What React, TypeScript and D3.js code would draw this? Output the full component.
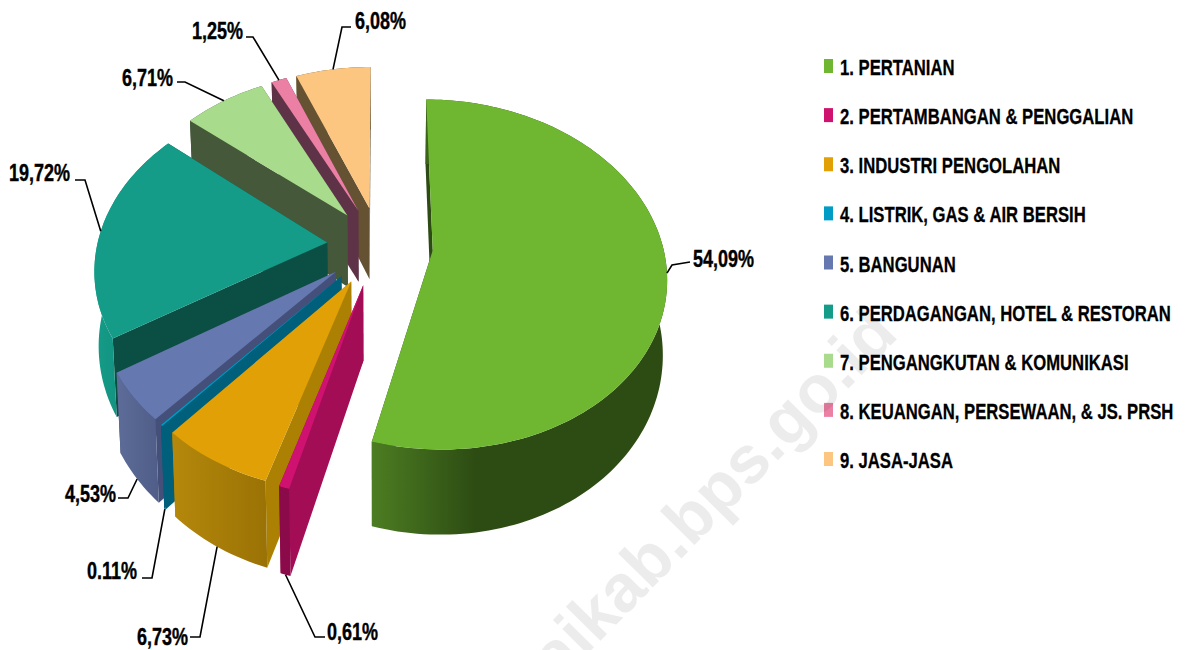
import React from 'react';
import { pie, line, scalePoint } from 'd3';

const categories = [
  '1. PERTANIAN',
  '2. PERTAMBANGAN & PENGGALIAN',
  '3. INDUSTRI PENGOLAHAN',
  '4. LISTRIK, GAS & AIR BERSIH',
  '5. BANGUNAN',
  '6. PERDAGANGAN, HOTEL & RESTORAN',
  '7. PENGANGKUTAN & KOMUNIKASI',
  '8. KEUANGAN, PERSEWAAN, & JS. PRSH',
  '9. JASA-JASA',
];
const values = [54.09, 0.61, 6.73, 0.11, 4.53, 19.72, 6.71, 1.25, 6.08];
const valueLabels = ['54,09%', '0,61%', '6,73%', '0.11%', '4,53%', '19,72%', '6,71%', '1,25%', '6,08%'];

// slice colours: top face, flat side wall, outer wall left and right
const topColors = ['#6fb731', '#cf1270', '#e0a006', '#009cc5', '#6678b0', '#149c88', '#a8dc8c', '#ec80a4', '#fdc680'];
const sideColors = ['#2d4c13', '#a30d55', '#ac8003', '#005f7a', '#45507a', '#0b4f44', '#45583a', '#5f3347', '#655233'];
const outerLeft = ['#4c7d22', '#8b0a49', '#b5880b', '#005f7a', '#5d6c98', '#149c88', '#45583a', '#5f3347', '#655233'];
const outerRight = ['#2d4c13', '#8b0a49', '#9a7205', '#005f7a', '#4f5d88', '#0f7f70', '#45583a', '#5f3347', '#655233'];

// how far each slice is pulled out of the pie
const explode = [54, 55, 55, 55, 55, 52, 52, 52, 52];

// leader bend, leader end, label x, label baseline
const labelLayout = [
  { bend: [672, 265], end: [690, 262], x: 693, y: 267 },
  { bend: [315, 637], end: [325, 637], x: 327, y: 640 },
  { bend: [200, 637], end: [190, 637], x: 137, y: 645 },
  { bend: [152, 578], end: [142, 578], x: 87, y: 579 },
  { bend: [128, 498], end: [118, 498], x: 65, y: 502 },
  { bend: [85, 180], end: [75, 180], x: 9, y: 181 },
  { bend: [185, 82], end: [177, 82], x: 122, y: 86 },
  { bend: [253, 37], end: [246, 37], x: 192, y: 39 },
  { bend: [342, 27], end: [351, 27], x: 355, y: 29 },
];

const cx = 379;
const cy = 245;
const radius = 230;
const tilt = 0.74;
const persp = 0.0006;
const depth = 73;

const project = (X: number, Y: number, z: number): [number, number] => {
  const s = 1 / (1 - persp * Y);
  return [cx + X * s * (1 - 0.015 * z / depth), cy + tilt * Y * s + z * s];
};

const arcs = pie<number>().sort(null).startAngle(0).endAngle(Math.PI * 2)(values);
const path = line();

export default function App() {
  const legendY = scalePoint<string>().domain(categories).range([66, 459]);

  const slices = arcs.map((a, i) => {
    const mid = (a.startAngle + a.endAngle) / 2;
    const ox = explode[i] * Math.sin(mid);
    const oy = -explode[i] * Math.cos(mid);
    const pt = (angle: number, r: number, z: number) =>
      project(ox + r * Math.sin(angle), oy - r * Math.cos(angle), z);
    const steps = Math.max(2, Math.ceil((a.endAngle - a.startAngle) * 40));
    const angles = Array.from({ length: steps + 1 }, (_, k) => a.startAngle + (a.endAngle - a.startAngle) * k / steps);
    const top = [pt(0, 0, 0), ...angles.map(t => pt(t, radius, 0))];
    const outer = [...angles.map(t => pt(t, radius, 0)), ...angles.slice().reverse().map(t => pt(t, radius, depth))];
    const wall = (t: number) => [pt(0, 0, 0), pt(t, radius, 0), pt(t, radius, depth), pt(0, 0, depth)] as [number, number][];
    const front = Math.cos(mid) < -0.5;
    return { i, mid, top, outer, startWall: wall(a.startAngle), endWall: wall(a.endAngle), leader: pt(mid, radius, front ? depth : 0) };
  });

  const painted = slices.slice().reverse();

  return (
    <svg width={1190} height={650} style={{ position: 'absolute', left: 0, top: 0, display: 'block', background: '#fff' }}>
      <defs>
        {values.map((_, i) => (
          <linearGradient key={i} id={`outer${i}`} x1="0" x2="1" y1="0" y2="0">
            <stop offset="0" stopColor={outerLeft[i]} />
            <stop offset={i === 0 ? 0.35 : 1} stopColor={outerRight[i]} />
          </linearGradient>
        ))}
      </defs>

      {painted.map(s => (
        <g key={s.i}>
          <path d={path(s.startWall) + 'Z'} fill={sideColors[s.i]} />
          <path d={path(s.endWall) + 'Z'} fill={sideColors[s.i]} />
          <path d={path(s.outer) + 'Z'} fill={`url(#outer${s.i})`} />
          <path d={path(s.top) + 'Z'} fill={topColors[s.i]} />
        </g>
      ))}

      {slices.map(s => {
        const l = labelLayout[s.i];
        return (
          <g key={s.i}>
            <path d={path([s.leader, l.bend as [number, number], l.end as [number, number]]) as string} fill="none" stroke="#000" strokeWidth={1.6} />
            <text
              transform={`translate(${l.x},${l.y}) scale(0.75,1)`}
              fontFamily="'Liberation Sans', Arial, sans-serif"
              fontWeight="bold"
              fontSize={24}
              fill="#000"
              stroke="#000"
              strokeWidth={0.4}
            >
              {valueLabels[s.i]}
            </text>
          </g>
        );
      })}

      {categories.map((c, i) => (
        <g key={c}>
          <rect x={824} y={(legendY(c) as number) - 7} width={9} height={14} fill={topColors[i]} />
          <text
            transform={`translate(840,${(legendY(c) as number) + 9}) scale(0.725,1)`}
            fontFamily="'Liberation Sans', Arial, sans-serif"
            fontWeight="bold"
            fontSize={23}
            fill="#000"
            stroke="#000"
            strokeWidth={0.3}
          >
            {c}
          </text>
        </g>
      ))}

      <text
        transform="translate(900,336) rotate(-45.5)"
        textAnchor="end"
        fontFamily="'Liberation Sans', Arial, sans-serif"
        fontWeight="bold"
        fontSize={67}
        fill="#000"
        opacity={0.07}
      >
        aikab.bps.go.id
      </text>
    </svg>
  );
}
